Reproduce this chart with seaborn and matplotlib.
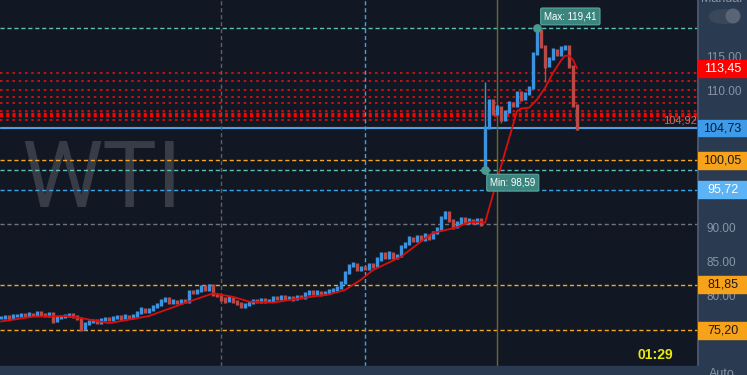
import numpy as np
import pandas as pd
import matplotlib
matplotlib.use("Agg")
import matplotlib.pyplot as plt
import matplotlib.transforms as mtransforms
from matplotlib.patches import Rectangle, FancyBboxPatch, Ellipse
import seaborn as sns

# --- data: one close per bar (bar index = time) ---
close = [
    77.1, 77.2, 77.0, 77.3, 77.4, 77.5, 77.4, 77.6, 77.5, 77.8,
    77.6, 77.4, 77.7, 76.6, 77.0, 77.2, 77.4, 77.5, 77.2, 77.0,
    75.4, 76.2, 76.5, 76.6, 76.4, 76.7, 76.9, 76.8, 77.1, 77.2,
    77.0, 77.3, 77.1, 77.3, 77.8, 78.3, 78.0, 78.2, 78.6, 78.9,
    79.6, 79.8, 79.3, 79.5, 79.3, 79.6, 79.4, 80.9, 80.7, 81.0,
    81.6, 81.2, 81.7, 80.5, 80.3, 79.8, 79.5, 79.9, 79.4, 79.1,
    78.7, 78.9, 79.3, 79.6, 79.4, 79.7, 79.5, 79.6, 80.0, 79.9,
    80.1, 79.9, 80.0, 79.8, 80.1, 80.0, 80.6, 80.9, 80.6, 80.8,
    80.5, 80.7, 81.0, 81.2, 81.5, 82.1, 83.6, 84.6, 84.9, 84.1,
    84.4, 84.2, 84.8, 84.6, 85.6, 86.4, 85.8, 86.5, 85.8, 86.1,
    87.4, 87.9, 88.7, 88.3, 88.9, 88.5, 89.1, 88.7, 89.4, 90.0,
    91.6, 92.4, 91.2, 90.3, 90.9, 91.5, 91.0, 91.3, 91.0, 91.4,
    90.7, 104.8, 108.8, 106.9, 107.8, 106.0, 107.1, 108.4, 108.0, 109.9,
    109.0, 109.8, 110.6, 115.6, 119.0, 116.6, 113.8, 114.8, 116.1, 115.5,
    116.4, 116.6, 113.7, 108.0, 104.73,
]
gap_bar = 121
gap_open = 98.59

# wicks that stick out of the bodies
wick_bar = [20, 52, 88, 111, 121, 125, 134, 136, 144]
wick_low = [75.2, 81.2, 84.6, 91.6, 98.59, 105.5, 115.6, 111.5, 104.4]
wick_high = [77.0, 81.95, 85.1, 92.6, 111.5, 107.8, 119.41, 116.6, 107.9]

# moving average
ma_bar = [0, 8, 16, 20, 27, 37, 46, 53, 58, 62, 68, 75, 82, 86, 90, 93, 100, 106, 108,
          114, 117, 120, 121, 126, 129, 130, 132, 134, 136, 138, 140, 141, 142, 143, 144]
ma_val = [76.5, 77.2, 77.3, 77.0, 76.25, 77.3, 79.2, 80.6, 80.1, 79.4, 79.25, 79.9, 80.45,
          81.1, 82.6, 84.0, 85.95, 88.6, 89.4, 90.25, 91.0, 91.0, 90.9, 101.2, 107.2, 107.6,
          107.7, 108.9, 110.6, 112.8, 114.6, 115.3, 115.3, 114.7, 113.45]

# levels
red_levels = [112.73, 111.56, 110.25, 109.23, 108.35, 107.18, 105.87]
red_thick_level = 106.64
orange_levels = [100.05, 81.85, 75.20]
blue_level = 95.72
gray_level = 90.8
max_val, max_bar = 119.41, 134
min_val, min_bar = 98.59, 121
ref_level = 104.92
vlines_gray, vline_blue, vline_olive = 55, 91, 124
tick_vals = [80, 85, 90, 110, 115]

BG = "#121823"
PANEL = "#2a3a51"
UP, DOWN = "#3b93e0", "#b94a45"

sns.set_theme(style="dark", rc={"axes.facecolor": BG, "figure.facecolor": BG})
plt.rcParams["font.family"] = ["Liberation Sans", "DejaVu Sans"]
plt.rcParams["lines.scale_dashes"] = False

fig = plt.figure(figsize=(7.47, 3.75), dpi=100)
W, H = 747, 375
ax = fig.add_axes([0, 9 / H, 698 / W, 366 / H])
ax.set_xlim(-0.25, 174.25)
ax.set_ylim(70.0, 123.43)
ax.set_facecolor(BG)
for s in ax.spines.values():
    s.set_visible(False)
ax.set_xticks([])
ax.set_yticks([])
ax.grid(False)

df = pd.DataFrame({"bar": np.arange(len(close)), "close": close})
df["open"] = df["close"].shift(1).fillna(df["close"].iloc[0])
df.loc[gap_bar, "open"] = gap_open
df["up"] = df["close"] >= df["open"]
df["lo"] = df[["open", "close"]].min(axis=1)
df["hi"] = df[["open", "close"]].max(axis=1)

# watermark
ax.text(0.1461, (366 - 207) / 366, "WTI", transform=ax.transAxes, ha="center",
        va="baseline", fontsize=66, color="#383c46", family="Roboto", zorder=0)

hx = mtransforms.blended_transform_factory(ax.transAxes, ax.transData)
# horizontal levels
for v in red_levels:
    ax.axhline(v, color="#e01010", lw=1.2, ls=(0, (1.8, 2.7)), zorder=1)
ax.axhline(red_thick_level, color="#ff0000", lw=3.2, ls=(0, (2.2, 2.3)), zorder=1)
for v in orange_levels:
    ax.axhline(v, color="#f5a623", lw=1.0, ls=(0, (3, 2)), zorder=1)
ax.axhline(max_val, color="#5cc0b5", lw=1.0, ls=(0, (3, 2)), zorder=1)
ax.axhline(min_val, color="#5cc0b5", lw=1.0, ls=(0, (3, 2)), zorder=1)
ax.axhline(blue_level, color="#3ca3e6", lw=1.0, ls=(0, (3, 2)), zorder=1)
ax.axhline(gray_level, color="#70747c", lw=1.0, ls=(0, (3, 2)), zorder=1)
ax.axhline(close[-1], color="#4aa3ea", lw=0.8, zorder=1)
ax.axhline(ref_level, color="#d8705f", lw=0.8, zorder=1)
ax.text(0.998, ref_level + 0.15, "104,92", transform=hx, ha="right", va="bottom",
        fontsize=8, color="#d2685c", zorder=2)

# vertical markers
ax.axvline(vlines_gray, color="#5b5f68", lw=1.0, ls=(0, (3, 2)), zorder=1)
ax.axvline(vline_blue, color="#3ca3e6", lw=1.0, ls=(0, (3, 2)), zorder=1)
ax.axvline(vline_olive, color="#6a6a2c", lw=1.0, zorder=1)

# bars (bodies get a little extra height so each bar stays visible)
up = df[df["up"]]
dn = df[~df["up"]]
ax.vlines(up["bar"], up["lo"] - 0.2, up["hi"] + 0.25, color=UP, lw=2.4, zorder=3)
ax.vlines(dn["bar"], dn["lo"] - 0.25, dn["hi"] + 0.2, color=DOWN, lw=2.4, zorder=3)
wick_cols = [UP if df.loc[b, "up"] else DOWN for b in wick_bar]
ax.vlines(wick_bar, wick_low, wick_high, colors=wick_cols, lw=1.0, zorder=3)

# moving average
sns.lineplot(x=ma_bar, y=ma_val, ax=ax, color="#d80f0f", lw=1.3, zorder=4)

# min / max markers and labels
ax.scatter([max_bar, min_bar], [max_val, min_val], s=28, color="#4a9a90", zorder=5)
box = dict(boxstyle="round,pad=0.35,rounding_size=0.15", fc="#3b857e", ec="#58a89f", lw=0.8)
ax.annotate("Max: 119,41", xy=(max_bar, max_val), xytext=(24, 8), textcoords="offset points",
            ha="center", va="center", fontsize=7, color="white", bbox=box, zorder=6)
ax.annotate("Min: 98,59", xy=(min_bar, min_val), xytext=(20, -9), textcoords="offset points",
            ha="center", va="center", fontsize=7, color="white", bbox=box, zorder=6)

ax.text(655 / 698, (366 - 355) / 366, "01:29", transform=ax.transAxes, ha="center",
        va="center", fontsize=10, fontweight="bold", color="#eaea10", zorder=6)

# right price panel
axr = fig.add_axes([698 / W, 9 / H, 49 / W, 366 / H])
axr.set_facecolor(PANEL)
axr.set_ylim(ax.get_ylim())
axr.set_xlim(0, 1)
axr.set_xticks([])
axr.grid(False)
for k, s in axr.spines.items():
    s.set_visible(k == "left")
axr.spines["left"].set_color("#4d5c74")
axr.set_yticks(tick_vals)
axr.tick_params(axis="y", direction="in", length=3, color="#8a94a6", labelleft=False)
for v in tick_vals:
    axr.text(0.17, v, f"{v:.2f}", ha="left", va="center", fontsize=8.5, color="#8a94a6")

labels = [
    (ma_val[-1], "#ff0000", "white"),
    (close[-1], "#3d9be9", "#0d1a2a"),
    (orange_levels[0], "#f7a21b", "#1a1a1a"),
    (blue_level, "#5cb3f5", "white"),
    (orange_levels[1], "#f7a21b", "#1a1a1a"),
    (orange_levels[2], "#f7a21b", "#1a1a1a"),
]
for v, fc, tc in labels:
    axr.add_patch(Rectangle((0, v - 1.22), 1, 2.44, color=fc, zorder=5))
    axr.text(0.5, v, f"{v:.2f}".replace(".", ","), ha="center", va="center",
             fontsize=9, color=tc, zorder=6)

# bottom strip, toggle and cut-off captions
fig.patches.append(Rectangle((0, 0), 1, 9 / H, transform=fig.transFigure, color=PANEL, zorder=0))
fig.patches.append(FancyBboxPatch((709 / W, (H - 24) / H), 30 / W, 15 / H,
                                  boxstyle="round,pad=0,rounding_size=0.02",
                                  transform=fig.transFigure, fc="#3a4659", ec="none"))
fig.patches.append(Ellipse((733 / W, (H - 16) / H), 15 / W, 15 / H,
                           transform=fig.transFigure, fc="#5a6475", ec="none"))
fig.text(722 / W, (H - 5) / H, "Manual", ha="center", va="bottom", fontsize=9, color="#8a94a6")
fig.text(722 / W, 7 / H, "Auto", ha="center", va="top", fontsize=9, color="#8a94a6")

fig.savefig("out.png", dpi=100, facecolor=BG)
